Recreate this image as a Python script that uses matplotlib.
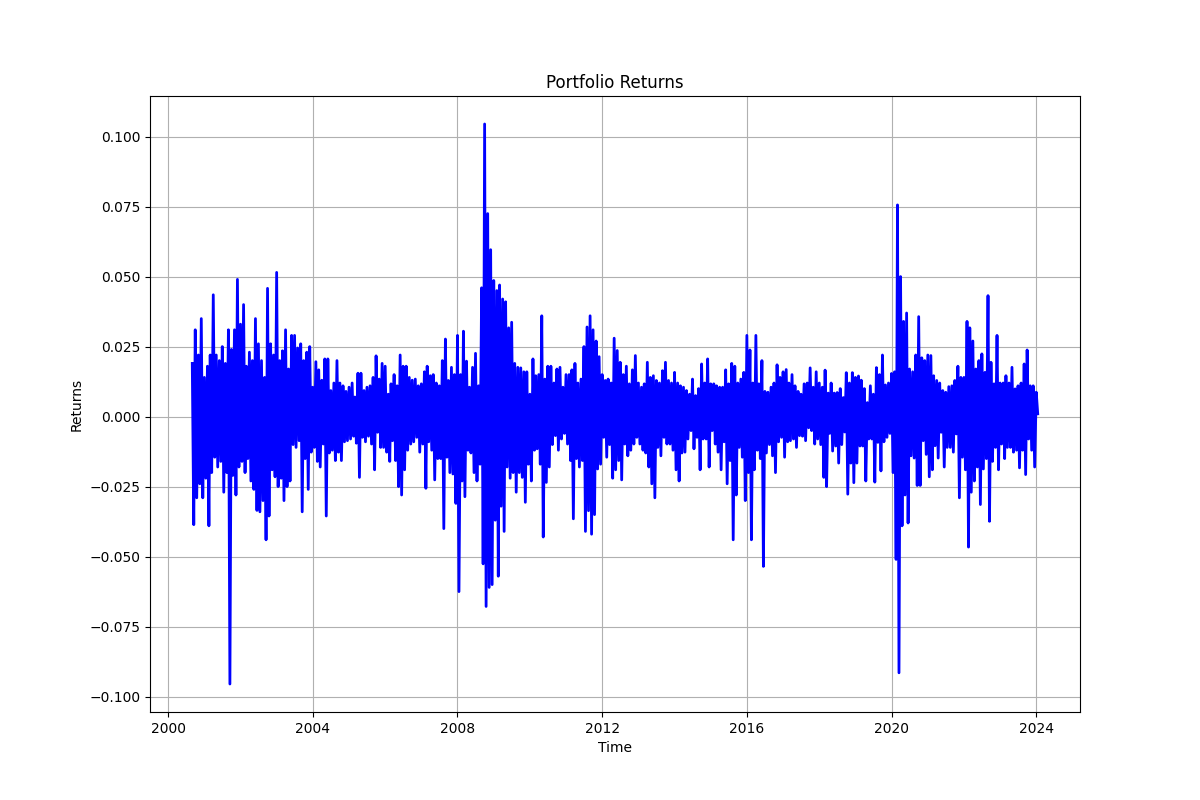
import numpy as np
import pandas as pd
import matplotlib
matplotlib.use('Agg')
import matplotlib.pyplot as plt

# First month in the series (monthly high / low daily returns)
start_month = '2000-09-01'

# Highest daily return in each month, one row per year
high_2000 = [0.019, 0.031, 0.022, 0.035]
high_2001 = [0.014, 0.018, 0.022, 0.0435, 0.022, 0.020, 0.025, 0.019, 0.031, 0.024, 0.031, 0.049]
high_2002 = [0.033, 0.040, 0.018, 0.023, 0.020, 0.035, 0.026, 0.020, 0.014, 0.0458, 0.026, 0.022]
high_2003 = [0.0515, 0.020, 0.0235, 0.031, 0.017, 0.029, 0.029, 0.0245, 0.026, 0.020, 0.023, 0.025]
high_2004 = [0.0105, 0.0196, 0.0167, 0.013, 0.0206, 0.0206, 0.0093, 0.012, 0.020, 0.012, 0.011, 0.009]
high_2005 = [0.0105, 0.012, 0.007, 0.0155, 0.0155, 0.0093, 0.0105, 0.011, 0.014, 0.0217, 0.0134, 0.019]
high_2006 = [0.018, 0.008, 0.0117, 0.015, 0.011, 0.022, 0.018, 0.018, 0.014, 0.013, 0.0134, 0.011]
high_2007 = [0.0117, 0.016, 0.018, 0.0146, 0.015, 0.012, 0.011, 0.020, 0.0277, 0.0129, 0.0176, 0.015]
high_2008 = [0.029, 0.015, 0.0305, 0.0198, 0.0105, 0.0176, 0.0226, 0.011, 0.046, 0.1045, 0.0725, 0.0596]
high_2009 = [0.0486, 0.045, 0.047, 0.042, 0.041, 0.0317, 0.0337, 0.019, 0.0176, 0.0174, 0.016, 0.016]
high_2010 = [0.008, 0.0206, 0.0146, 0.015, 0.036, 0.0134, 0.018, 0.018, 0.012, 0.017, 0.0176, 0.0105]
high_2011 = [0.015, 0.015, 0.0167, 0.019, 0.012, 0.0134, 0.025, 0.032, 0.036, 0.031, 0.027, 0.0214]
high_2012 = [0.015, 0.0129, 0.0134, 0.012, 0.028, 0.0236, 0.0194, 0.015, 0.018, 0.0117, 0.0167, 0.0218]
high_2013 = [0.012, 0.0105, 0.0117, 0.0194, 0.014, 0.0146, 0.0129, 0.012, 0.0164, 0.0194, 0.0129, 0.012]
high_2014 = [0.0158, 0.012, 0.011, 0.0105, 0.0093, 0.008, 0.0134, 0.0075, 0.010, 0.0188, 0.012, 0.0206]
high_2015 = [0.0117, 0.0117, 0.011, 0.0105, 0.0105, 0.0167, 0.0117, 0.019, 0.018, 0.012, 0.0134, 0.0158]
high_2016 = [0.029, 0.0238, 0.012, 0.029, 0.0117, 0.020, 0.009, 0.0087, 0.0105, 0.012, 0.0185, 0.014]
high_2017 = [0.016, 0.0168, 0.012, 0.015, 0.011, 0.009, 0.008, 0.0117, 0.012, 0.0174, 0.0105, 0.016]
high_2018 = [0.012, 0.0105, 0.0166, 0.0084, 0.012, 0.0084, 0.0086, 0.010, 0.0068, 0.0157, 0.012, 0.0157]
high_2019 = [0.014, 0.0145, 0.013, 0.010, 0.005, 0.011, 0.008, 0.0175, 0.015, 0.022, 0.0113, 0.012]
high_2020 = [0.0154, 0.016, 0.0756, 0.050, 0.034, 0.037, 0.017, 0.016, 0.022, 0.0357, 0.021, 0.020]
high_2021 = [0.022, 0.0218, 0.0146, 0.0129, 0.012, 0.0093, 0.0087, 0.0107, 0.011, 0.0129, 0.018, 0.014]
high_2022 = [0.014, 0.034, 0.0317, 0.027, 0.017, 0.020, 0.0224, 0.0158, 0.0432, 0.0194, 0.0117, 0.029]
high_2023 = [0.012, 0.012, 0.0146, 0.012, 0.0176, 0.0099, 0.011, 0.012, 0.0188, 0.0238, 0.011, 0.011]
high_2024 = [0.0087]

# Lowest daily return in each month, one row per year
low_2000 = [-0.0386, -0.029, -0.024, -0.029]
low_2001 = [-0.022, -0.039, -0.020, -0.0145, -0.018, -0.016, -0.027, -0.020, -0.0955, -0.021, -0.028, -0.018]
low_2002 = [-0.016, -0.020, -0.015, -0.023, -0.026, -0.0335, -0.034, -0.030, -0.044, -0.0355, -0.019, -0.0215]
low_2003 = [-0.025, -0.022, -0.030, -0.025, -0.023, -0.010, -0.011, -0.0086, -0.034, -0.015, -0.026, -0.0127]
low_2004 = [-0.011, -0.016, -0.018, -0.0098, -0.0355, -0.013, -0.012, -0.0157, -0.0127, -0.0157, -0.009, -0.0086]
low_2005 = [-0.008, -0.007, -0.0095, -0.0217, -0.0074, -0.009, -0.007, -0.0098, -0.019, -0.0056, -0.011, -0.011]
low_2006 = [-0.0127, -0.016, -0.0086, -0.0157, -0.025, -0.028, -0.019, -0.012, -0.0098, -0.009, -0.0074, -0.0127]
low_2007 = [-0.0098, -0.0256, -0.009, -0.012, -0.0226, -0.015, -0.015, -0.040, -0.0145, -0.020, -0.0205, -0.031]
low_2008 = [-0.0625, -0.023, -0.0286, -0.012, -0.013, -0.020, -0.023, -0.017, -0.0526, -0.0678, -0.061, -0.060]
low_2009 = [-0.037, -0.057, -0.032, -0.041, -0.018, -0.022, -0.020, -0.027, -0.020, -0.0217, -0.0306, -0.017]
low_2010 = [-0.023, -0.012, -0.0115, -0.017, -0.043, -0.0235, -0.018, -0.010, -0.0068, -0.012, -0.008, -0.006]
low_2011 = [-0.0098, -0.0157, -0.0365, -0.015, -0.018, -0.0157, -0.041, -0.0336, -0.042, -0.035, -0.0187, -0.017]
low_2012 = [-0.0074, -0.0145, -0.010, -0.022, -0.019, -0.0157, -0.0226, -0.0098, -0.014, -0.012, -0.0098, -0.0074]
low_2013 = [-0.0098, -0.012, -0.013, -0.018, -0.024, -0.029, -0.011, -0.014, -0.0074, -0.0098, -0.0098, -0.012]
low_2014 = [-0.019, -0.023, -0.013, -0.0127, -0.008, -0.005, -0.0115, -0.0074, -0.019, -0.008, -0.008, -0.018]
low_2015 = [-0.005, -0.0098, -0.0127, -0.019, -0.009, -0.024, -0.0157, -0.044, -0.028, -0.011, -0.0145, -0.030]
low_2016 = [-0.020, -0.044, -0.019, -0.012, -0.015, -0.0535, -0.013, -0.010, -0.014, -0.020, -0.009, -0.0074]
low_2017 = [-0.0145, -0.009, -0.0086, -0.008, -0.011, -0.0068, -0.007, -0.0086, -0.004, -0.005, -0.0098, -0.008]
low_2018 = [-0.010, -0.0217, -0.025, -0.006, -0.0123, -0.0105, -0.0166, -0.010, -0.0055, -0.0277, -0.0166, -0.0236]
low_2019 = [-0.0166, -0.0105, -0.0105, -0.023, -0.008, -0.008, -0.0234, -0.0092, -0.0194, -0.009, -0.0074, -0.006]
low_2020 = [-0.020, -0.051, -0.0915, -0.039, -0.028, -0.038, -0.014, -0.0148, -0.0246, -0.0246, -0.0086, -0.0135]
low_2021 = [-0.0215, -0.019, -0.0104, -0.0148, -0.0056, -0.018, -0.011, -0.011, -0.0127, -0.0062, -0.029, -0.0145]
low_2022 = [-0.019, -0.0466, -0.027, -0.023, -0.018, -0.0314, -0.0187, -0.015, -0.0374, -0.016, -0.011, -0.019]
low_2023 = [-0.0098, -0.015, -0.011, -0.011, -0.0127, -0.012, -0.0183, -0.012, -0.0207, -0.008, -0.012, -0.018]
low_2024 = [0.001]


# Stitch the yearly rows together into one series of highs and lows
def build_series():
    highs = (high_2000 + high_2001 + high_2002 + high_2003 + high_2004 + high_2005
             + high_2006 + high_2007 + high_2008 + high_2009 + high_2010 + high_2011
             + high_2012 + high_2013 + high_2014 + high_2015 + high_2016 + high_2017
             + high_2018 + high_2019 + high_2020 + high_2021 + high_2022 + high_2023
             + high_2024)
    lows = (low_2000 + low_2001 + low_2002 + low_2003 + low_2004 + low_2005
            + low_2006 + low_2007 + low_2008 + low_2009 + low_2010 + low_2011
            + low_2012 + low_2013 + low_2014 + low_2015 + low_2016 + low_2017
            + low_2018 + low_2019 + low_2020 + low_2021 + low_2022 + low_2023
            + low_2024)

    months = pd.date_range(start_month, periods=len(highs), freq='MS')

    # High early in the month, low mid-month, so the line swings between them
    dates = []
    returns = []
    for m, hi, lo in zip(months, highs, lows):
        dates.append(m)
        returns.append(hi)
        dates.append(m + pd.Timedelta(days=15))
        returns.append(lo)

    return pd.Series(returns, index=pd.DatetimeIndex(dates))


def plot_returns(series, output_file):
    plt.figure(figsize=(12, 8))
    plt.plot(series.index, series.values, color='blue', linewidth=2)
    plt.title('Portfolio Returns')
    plt.xlabel('Time')
    plt.ylabel('Returns')
    plt.grid(True)
    plt.savefig(output_file, dpi=100)
    plt.close()


if __name__ == "__main__":
    series = build_series()
    plot_returns(series, 'out.png')
